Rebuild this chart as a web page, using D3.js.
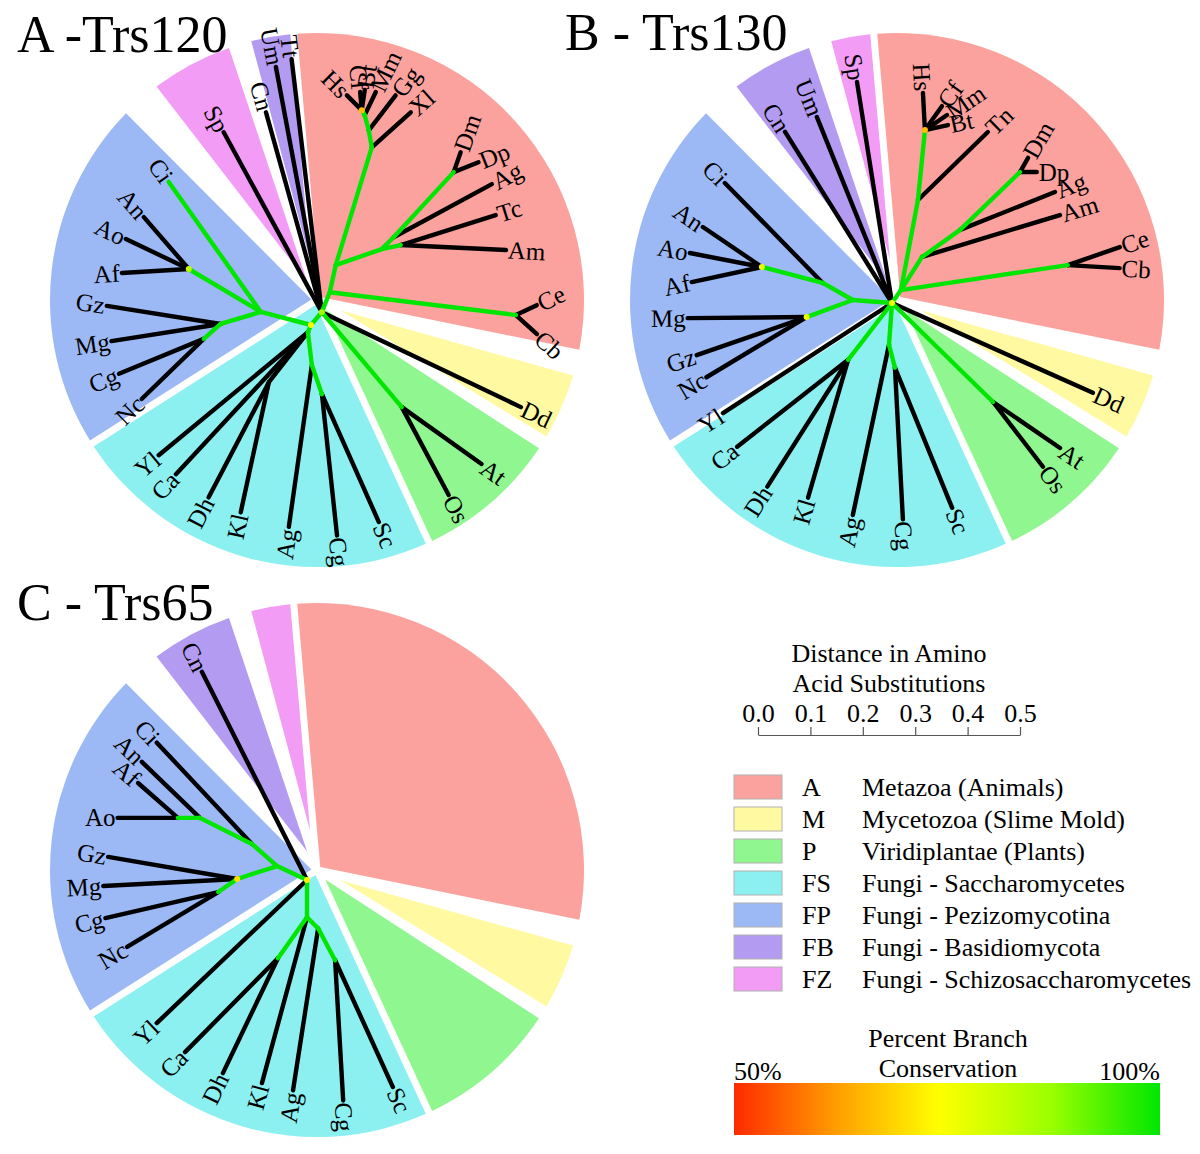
<!DOCTYPE html>
<html><head><meta charset="utf-8">
<script src="https://cdn.jsdelivr.net/npm/d3@7"></script>
<style>
body{margin:0;background:#fff}
svg{display:block}
text{font-family:"Liberation Serif","Times New Roman",serif;fill:#000}
</style>
</head><body>
<svg id="chart" width="1200" height="1154"></svg>
<script>
// ---------------- DATA ----------------
const groupCodes = ["A","M","P","FS","FP","FB","FZ"];
const groupNames = ["Metazoa (Animals)","Mycetozoa (Slime Mold)","Viridiplantae (Plants)",
  "Fungi - Saccharomycetes","Fungi - Pezizomycotina","Fungi - Basidiomycota","Fungi - Schizosaccharomycetes"];
const groupColors = ["#fca29e","#fff9a2","#90f690","#8df0f0","#9db9f5","#b39bf1","#f29cf6"];

const panelTitles = ["A -Trs120","B - Trs130","C - Trs65"];

// clade sectors: [group, startDeg, endDeg] (0 = up, clockwise)
const sectorsA = [["A",-5,101.5],["M",105.7,121.5],["P",123,155.2],["FS",155.2,237.5],["FP",237.5,315.1],["FZ",322.3,341.5],["FB",345,355]];
const sectorsB = [["A",-5,101.5],["M",105.7,121.5],["P",123,155.2],["FS",155.2,237.5],["FP",237.5,315.1],["FB",322.3,341.5],["FZ",345,355]];
const sectorsC = [["A",-5,101.5],["M",105.7,121.5],["P",123,155.2],["FS",155.2,237.5],["FP",237.5,315.1],["FB",322.3,341.5],["FZ",345,355]];

// branches: [id, parent, angleDeg, length (aa substitutions), support % (null = black), label]
const treeA = [
 ["c2","r",40,0.032,100,""],
 ["Tt","c2",353.2,0.486,null,"Tt"],
 ["Um","c2",349.4,0.476,null,"Um"],
 ["Cn","c2",344.4,0.396,null,"Cn"],
 ["Sp","c2",331.4,0.391,null,"Sp"],
 ["Dd","c2",115.5,0.421,null,"Dd"],
 ["pl","c2",139.9,0.237,100,""],
 ["At","pl",125.5,0.187,null,"At"],
 ["Os","pl",151.9,0.190,null,"Os"],
 ["m0","c2",21.8,0.041,100,""],
 ["cc","m0",97.0,0.358,100,""],
 ["Ce","cc",64.5,0.044,null,"Ce"],
 ["Cb","cc",132.1,0.054,null,"Cb"],
 ["m1","m0",12.5,0.053,100,""],
 ["i0","m1",70.8,0.093,100,""],
 ["ta","i0",78.1,0.037,100,""],
 ["Tc","ta",72.5,0.190,null,"Tc"],
 ["Am","ta",92.7,0.201,null,"Am"],
 ["i1","i0",45,0.032,100,""],
 ["Ag1","i1",61.6,0.213,null,"Ag"],
 ["dd","i1",42.7,0.169,100,""],
 ["Dm","dd",19.3,0.040,null,"Dm"],
 ["Dp","dd",68.2,0.051,null,"Dp"],
 ["v0","m1",17.0,0.235,100,""],
 ["Xl","v0",48.1,0.100,null,"Xl"],
 ["v1","v0",350,0.033,100,""],
 ["Gg","v1",37.6,0.084,null,"Gg"],
 ["v2","v1",345,0.030,100,""],
 ["Mm","v2",25.6,0.049,null,"Mm"],
 ["v3","v2",329,0.011,100,""],
 ["Bt","v3",8.5,0.039,null,"Bt"],
 ["Cf","v3",355,0.035,null,"Cf"],
 ["Hs","v3",315,0.040,null,"Hs"],
 ["f1","r",284.6,0.099,100,""],
 ["Ci","f1",324.7,0.304,100,"Ci"],
 ["as","f1",300.8,0.160,100,""],
 ["An","as",319.1,0.131,null,"An"],
 ["Ao","as",295.5,0.133,null,"Ao"],
 ["Af","as",266.6,0.128,null,"Af"],
 ["fb","f1",253.3,0.080,100,""],
 ["Gz","fb",279,0.220,null,"Gz"],
 ["Mg","fb",261.1,0.211,null,"Mg"],
 ["cn","fb",228.6,0.043,100,""],
 ["Cg1","cn",247.6,0.175,null,"Cg"],
 ["Nc","cn",225.9,0.165,null,"Nc"],
 ["s0","r",203.2,0.015,100,""],
 ["Yl","s0",230.5,0.369,null,"Yl"],
 ["Ca","s0",222.9,0.370,null,"Ca"],
 ["dk","s0",218,0.121,null,""],
 ["Dh","dk",207.6,0.248,null,"Dh"],
 ["Kl","dk",192.2,0.254,null,"Kl"],
 ["s1","s0",173.1,0.063,100,""],
 ["Ag2","s1",188.1,0.312,null,"Ag"],
 ["s2","s1",161,0.059,100,""],
 ["Cg2","s2",173.9,0.271,null,"Cg"],
 ["Sc","s2",156,0.267,null,"Sc"]
];
const dotsA = [["r",75],["c2",86],["as",82],["v3",66]];

const treeB = [
 ["c","r",34.7,0.030,100,""],
 ["Sp","r",351,0.427,null,"Sp"],
 ["Um","r",338,0.383,null,"Um"],
 ["Cn","r",328,0.385,null,"Cn"],
 ["Dd","r",114.1,0.420,null,"Dd"],
 ["pl","r",134.4,0.270,100,""],
 ["At","pl",124.5,0.155,null,"At"],
 ["Os","pl",142.4,0.156,null,"Os"],
 ["cc","c",81.5,0.322,100,""],
 ["Ce","cc",70.9,0.105,null,"Ce"],
 ["Cb","cc",93.3,0.099,null,"Cb"],
 ["i0","c",32.5,0.075,100,""],
 ["Am","i0",73.1,0.275,null,"Am"],
 ["i1","i0",54.6,0.089,100,""],
 ["Ag1","i1",68.2,0.195,null,"Ag"],
 ["dd","i1",46,0.159,100,""],
 ["Dm","dd",29.7,0.031,null,"Dm"],
 ["Dp","dd",90,0.032,null,"Dp"],
 ["v0","c",10.7,0.175,100,""],
 ["Tn","v0",45.8,0.186,null,"Tn"],
 ["v1","v0",5.7,0.134,100,""],
 ["Hs","v1",356.9,0.071,null,"Hs"],
 ["Cf","v1",35.3,0.056,null,"Cf"],
 ["Mm","v1",55.7,0.051,null,"Mm"],
 ["Bt","v1",77.7,0.045,null,"Bt"],
 ["f0","r",274.4,0.075,100,""],
 ["f1","f0",299.5,0.066,100,""],
 ["Ci","f1",315.6,0.267,null,"Ci"],
 ["as","f1",284.7,0.120,100,""],
 ["An","as",304.1,0.136,null,"An"],
 ["Ao","as",281,0.140,null,"Ao"],
 ["Af","as",257.9,0.137,null,"Af"],
 ["mg","f0",249.7,0.094,100,""],
 ["Mg","mg",269.5,0.227,null,"Mg"],
 ["Gz","mg",250.9,0.222,null,"Gz"],
 ["Nc","mg",239,0.223,null,"Nc"],
 ["Yl","r",236.9,0.385,null,"Yl"],
 ["cd","r",217.7,0.137,100,""],
 ["Ca","cd",231.9,0.269,null,"Ca"],
 ["Dh","cd",212.5,0.287,null,"Dh"],
 ["Kl","cd",196.2,0.274,null,"Kl"],
 ["s1","r",184.1,0.080,100,""],
 ["Ag2","s1",192,0.332,null,"Ag"],
 ["s2","s1",165.4,0.045,100,""],
 ["Cg","s2",177,0.290,null,"Cg"],
 ["Sc","s2",157.8,0.289,null,"Sc"]
];
const dotsB = [["r",76],["as",76],["mg",76],["v1",66]];

const treeC = [
 ["Cn","r",333.2,0.445,null,"Cn"],
 ["f0","r",295,0.063,100,""],
 ["f1","f0",311.3,0.064,100,""],
 ["Ci","f1",316.8,0.265,null,"Ci"],
 ["f2","f1",296.6,0.111,100,""],
 ["An","f2",314,0.154,null,"An"],
 ["as","f2",270,0.042,100,""],
 ["Af","as",311.2,0.101,null,"Af"],
 ["Ao","as",270,0.115,null,"Ao"],
 ["mg","f0",252,0.080,100,""],
 ["Gz","mg",279.7,0.250,null,"Gz"],
 ["Mg","mg",267,0.256,null,"Mg"],
 ["cn","mg",235.6,0.044,100,""],
 ["Cg1","cn",257,0.221,null,"Cg"],
 ["Nc","cn",238.9,0.203,null,"Nc"],
 ["Yl","r",226.4,0.396,null,"Yl"],
 ["s0","r",180,0.071,100,""],
 ["Kl","s0",195.2,0.328,null,"Kl"],
 ["cd","s0",215.3,0.096,100,""],
 ["Ca","cd",224.7,0.252,null,"Ca"],
 ["Dh","cd",205.6,0.243,null,"Dh"],
 ["s1","s0",135,0.030,100,""],
 ["Ag","s1",188.8,0.313,null,"Ag"],
 ["s2","s1",152,0.069,100,""],
 ["Cg2","s2",176.7,0.268,null,"Cg"],
 ["Sc","s2",155.5,0.266,null,"Sc"]
];
const dotsC = [["r",72],["mg",70]];

const scaleTicks = [0,0.1,0.2,0.3,0.4,0.5];
const supportStops = [50,62,74,87,100];
const supportColors = ["#ff2a00","#ff9d00","#ffff00","#9dff00","#00e600"];

// ---------------- LAYOUT ----------------
const panels = [
 {title:panelTitles[0], tx:17, ty:52, cx:317, cy:300, rx:311, ry:325, sectors:sectorsA, tree:treeA, dots:dotsA},
 {title:panelTitles[1], tx:565, ty:50, cx:897, cy:300, rx:892, ry:303, sectors:sectorsB, tree:treeB, dots:dotsB},
 {title:panelTitles[2], tx:17, ty:620, cx:317, cy:870, rx:307, ry:880, sectors:sectorsC, tree:treeC, dots:dotsC}
];
const R = 267, halfGap = 3.5;

const svg = d3.select("#chart");
const dist = d3.scaleLinear().domain([0,0.5]).range([0,262]);
const supColor = d3.scaleLinear().domain(supportStops).range(supportColors).clamp(true);
const groupColor = d3.scaleOrdinal().domain(groupCodes).range(groupColors);
const rad = d => d*Math.PI/180;

function sectorPath(cx, cy, a0d, a1d){
  const a0 = rad(a0d), a1 = rad(a1d);
  const half = (a1-a0)/2, mid = (a0+a1)/2;
  const apex = d3.pointRadial(mid, halfGap/Math.sin(half));
  const e0 = a0 + Math.asin(halfGap/R), e1 = a1 - Math.asin(halfGap/R);
  const s = d3.pointRadial(e0, R);
  const p = d3.path();
  p.moveTo(cx+apex[0], cy+apex[1]);
  p.lineTo(cx+s[0], cy+s[1]);
  p.arc(cx, cy, R, e0-Math.PI/2, e1-Math.PI/2);
  p.closePath();
  return p.toString();
}

panels.forEach(P => {
  const g = svg.append("g");
  g.selectAll("path.sector").data(P.sectors).join("path")
    .attr("d", d => sectorPath(P.cx, P.cy, d[1], d[2]))
    .attr("fill", d => groupColor(d[0]));

  const pos = {r:[P.rx, P.ry]};
  const links = P.tree.map(([id,par,ang,len,sup,lab]) => {
    const [px,py] = pos[par];
    const [dx,dy] = d3.pointRadial(rad(ang), dist(len));
    pos[id] = [px+dx, py+dy];
    return {id, from:[px,py], to:pos[id], ang, sup, lab};
  });

  const drawLinks = (sel) => g.selectAll(null).data(sel).join("line")
    .attr("x1", d => d.from[0]).attr("y1", d => d.from[1])
    .attr("x2", d => d.to[0]).attr("y2", d => d.to[1])
    .attr("stroke", d => d.sup == null ? "#000" : supColor(d.sup))
    .attr("stroke-width", 4.4).attr("stroke-linecap","round");
  drawLinks(links.filter(d => d.sup == null));
  drawLinks(links.filter(d => d.sup != null));

  g.selectAll(null).data(P.dots).join("circle")
    .attr("cx", d => pos[d[0]][0]).attr("cy", d => pos[d[0]][1])
    .attr("r", 3).attr("fill", d => supColor(d[1]));

  g.selectAll(null).data(links.filter(d => d.lab)).join("text")
    .attr("transform", d => {
      const a = ((d.ang % 360) + 360) % 360;
      const o = d3.pointRadial(rad(a), 2);
      const right = a > 0 && a < 180;
      return `translate(${d.to[0]+o[0]},${d.to[1]+o[1]}) rotate(${right ? a-90 : a+90})`;
    })
    .attr("text-anchor", d => { const a = ((d.ang%360)+360)%360; return (a>0 && a<180) ? "start" : "end"; })
    .attr("dominant-baseline","central")
    .style("font-size","25px")
    .text(d => d.lab);

  svg.append("text").attr("x", P.tx).attr("y", P.ty)
    .style("font-size","52px").text(P.title);
});

// ---------------- LEGEND ----------------
const lg = svg.append("g");
lg.append("text").attr("x",889).attr("y",662).attr("text-anchor","middle").style("font-size","26px").text("Distance in Amino");
lg.append("text").attr("x",889).attr("y",692).attr("text-anchor","middle").style("font-size","26px").text("Acid Substitutions");
const scaleX = d3.scaleLinear().domain([0,0.5]).range([758, 758+dist(0.5)]);
const ax = lg.append("g").attr("transform","translate(0,735)")
  .call(d3.axisTop(scaleX).tickValues(scaleTicks).tickFormat(d3.format(".1f")).tickSize(8).tickSizeOuter(0).tickPadding(5));
ax.selectAll("path,line").attr("stroke","#555").attr("stroke-width",1.2);
ax.selectAll("text").attr("font-family",null).style("font-family","'Liberation Serif',serif").style("font-size","26px").attr("fill","#000");
ax.attr("font-family",null).attr("font-size",null);

const rows = lg.selectAll("g.row").data(groupCodes).join("g")
  .attr("transform", (d,i) => `translate(0,${775 + i*32})`);
rows.append("rect").attr("x",734).attr("y",0).attr("width",48).attr("height",24)
  .attr("fill", d => groupColor(d)).attr("stroke","#b0b0b0").attr("stroke-width",1);
rows.append("text").attr("x",802).attr("y",21).style("font-size","26px").text(d => d);
rows.append("text").attr("x",862).attr("y",21).style("font-size","26px").text((d,i) => groupNames[i]);

lg.append("text").attr("x",948).attr("y",1047).attr("text-anchor","middle").style("font-size","26px").text("Percent Branch");
lg.append("text").attr("x",948).attr("y",1077).attr("text-anchor","middle").style("font-size","26px").text("Conservation");
lg.append("text").attr("x",734).attr("y",1080).style("font-size","26px").text("50%");
lg.append("text").attr("x",1160).attr("y",1080).attr("text-anchor","end").style("font-size","26px").text("100%");

const defs = svg.append("defs");
const grad = defs.append("linearGradient").attr("id","supgrad");
const gx = d3.scaleLinear().domain([50,100]).range([0,100]);
grad.selectAll("stop").data(supportStops).join("stop")
  .attr("offset", d => gx(d)+"%").attr("stop-color", d => supColor(d));
lg.append("rect").attr("x",734).attr("y",1083).attr("width",426).attr("height",52).attr("fill","url(#supgrad)");
</script>
</body></html>
